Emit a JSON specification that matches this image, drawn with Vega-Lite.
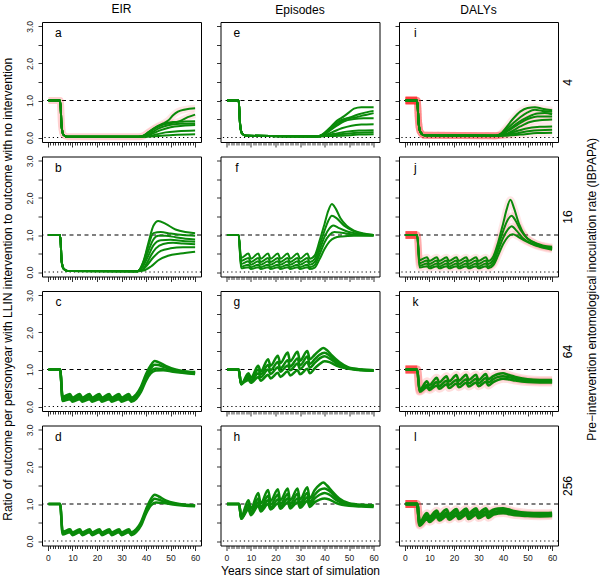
{
"$schema":"https://vega.github.io/schema/vega-lite/v6.json",
"padding":{"left":1,"top":2,"right":2,"bottom":2},
"background":"white",
"config":{"font":"Liberation Sans","view":{"stroke":"black","strokeWidth":1},
"axis":{"grid":false,"domain":false,"tickColor":"black","tickWidth":0.8,"labelColor":"#222","labelFont":"Liberation Sans","labelFontSize":8.5,"titleFont":"Liberation Sans","titleFontWeight":"normal","titleFontSize":12,"titleColor":"black","labelOverlap":false},
"title":{"font":"Liberation Sans","fontSize":12,"fontWeight":"normal","color":"black","offset":5}},
"data":{"values":[
{"p":"a","l":1,"x":0.25,"y":1},{"p":"a","l":1,"x":5,"y":1},{"p":"a","l":1,"x":5.6,"y":0.3},{"p":"a","l":1,"x":6.3,"y":0.08},{"p":"a","l":1,"x":8,"y":0.02},{"p":"a","l":1,"x":37,"y":0.02},{"p":"a","l":1,"x":39,"y":0.05},{"p":"a","l":1,"x":41,"y":0.15},{"p":"a","l":1,"x":44,"y":0.28},{"p":"a","l":1,"x":47,"y":0.38},{"p":"a","l":1,"x":49,"y":0.46},{"p":"a","l":1,"x":51,"y":0.6},{"p":"a","l":1,"x":53,"y":0.7},{"p":"a","l":1,"x":56,"y":0.76},{"p":"a","l":1,"x":60,"y":0.79},
{"p":"a","l":2,"x":0.25,"y":1},{"p":"a","l":2,"x":5,"y":1},{"p":"a","l":2,"x":5.6,"y":0.3},{"p":"a","l":2,"x":6.3,"y":0.08},{"p":"a","l":2,"x":8,"y":0.02},{"p":"a","l":2,"x":37,"y":0.02},{"p":"a","l":2,"x":39,"y":0.05},{"p":"a","l":2,"x":41,"y":0.14},{"p":"a","l":2,"x":44,"y":0.26},{"p":"a","l":2,"x":47,"y":0.35},{"p":"a","l":2,"x":51,"y":0.4},{"p":"a","l":2,"x":54,"y":0.45},{"p":"a","l":2,"x":57,"y":0.55},{"p":"a","l":2,"x":60,"y":0.62},
{"p":"a","l":3,"x":0.25,"y":1},{"p":"a","l":3,"x":5,"y":1},{"p":"a","l":3,"x":5.6,"y":0.3},{"p":"a","l":3,"x":6.3,"y":0.08},{"p":"a","l":3,"x":8,"y":0.02},{"p":"a","l":3,"x":37,"y":0.02},{"p":"a","l":3,"x":39,"y":0.05},{"p":"a","l":3,"x":41,"y":0.13},{"p":"a","l":3,"x":44,"y":0.27},{"p":"a","l":3,"x":47,"y":0.37},{"p":"a","l":3,"x":51,"y":0.42},{"p":"a","l":3,"x":55,"y":0.43},{"p":"a","l":3,"x":60,"y":0.44},
{"p":"a","l":4,"x":0.25,"y":1},{"p":"a","l":4,"x":5,"y":1},{"p":"a","l":4,"x":5.6,"y":0.3},{"p":"a","l":4,"x":6.3,"y":0.08},{"p":"a","l":4,"x":8,"y":0.02},{"p":"a","l":4,"x":37,"y":0.02},{"p":"a","l":4,"x":39,"y":0.04},{"p":"a","l":4,"x":42,"y":0.12},{"p":"a","l":4,"x":45,"y":0.24},{"p":"a","l":4,"x":49,"y":0.33},{"p":"a","l":4,"x":54,"y":0.37},{"p":"a","l":4,"x":60,"y":0.38},
{"p":"a","l":5,"x":0.25,"y":1},{"p":"a","l":5,"x":5,"y":1},{"p":"a","l":5,"x":5.6,"y":0.3},{"p":"a","l":5,"x":6.3,"y":0.08},{"p":"a","l":5,"x":8,"y":0.02},{"p":"a","l":5,"x":37,"y":0.02},{"p":"a","l":5,"x":39,"y":0.03},{"p":"a","l":5,"x":42,"y":0.09},{"p":"a","l":5,"x":46,"y":0.2},{"p":"a","l":5,"x":50,"y":0.28},{"p":"a","l":5,"x":55,"y":0.32},{"p":"a","l":5,"x":60,"y":0.34},
{"p":"a","l":6,"x":0.25,"y":1},{"p":"a","l":6,"x":5,"y":1},{"p":"a","l":6,"x":5.6,"y":0.3},{"p":"a","l":6,"x":6.3,"y":0.08},{"p":"a","l":6,"x":8,"y":0.02},{"p":"a","l":6,"x":37,"y":0.02},{"p":"a","l":6,"x":40,"y":0.03},{"p":"a","l":6,"x":44,"y":0.08},{"p":"a","l":6,"x":48,"y":0.14},{"p":"a","l":6,"x":53,"y":0.17},{"p":"a","l":6,"x":60,"y":0.19},
{"p":"a","l":7,"x":0.25,"y":1},{"p":"a","l":7,"x":5,"y":1},{"p":"a","l":7,"x":5.6,"y":0.3},{"p":"a","l":7,"x":6.3,"y":0.08},{"p":"a","l":7,"x":8,"y":0.02},{"p":"a","l":7,"x":37,"y":0.02},{"p":"a","l":7,"x":40,"y":0.02},{"p":"a","l":7,"x":45,"y":0.04},{"p":"a","l":7,"x":51,"y":0.07},{"p":"a","l":7,"x":60,"y":0.09},
{"p":"e","l":1,"x":0.25,"y":1},{"p":"e","l":1,"x":5,"y":1},{"p":"e","l":1,"x":5.6,"y":0.35},{"p":"e","l":1,"x":6.3,"y":0.12},{"p":"e","l":1,"x":8,"y":0.05},{"p":"e","l":1,"x":37,"y":0.03},{"p":"e","l":1,"x":39,"y":0.08},{"p":"e","l":1,"x":42,"y":0.25},{"p":"e","l":1,"x":45,"y":0.45},{"p":"e","l":1,"x":48,"y":0.58},{"p":"e","l":1,"x":50,"y":0.68},{"p":"e","l":1,"x":52,"y":0.78},{"p":"e","l":1,"x":55,"y":0.82},{"p":"e","l":1,"x":60,"y":0.82},
{"p":"e","l":2,"x":0.25,"y":1},{"p":"e","l":2,"x":5,"y":1},{"p":"e","l":2,"x":5.6,"y":0.35},{"p":"e","l":2,"x":6.3,"y":0.12},{"p":"e","l":2,"x":8,"y":0.05},{"p":"e","l":2,"x":37,"y":0.03},{"p":"e","l":2,"x":39,"y":0.07},{"p":"e","l":2,"x":42,"y":0.2},{"p":"e","l":2,"x":45,"y":0.35},{"p":"e","l":2,"x":48,"y":0.48},{"p":"e","l":2,"x":51,"y":0.56},{"p":"e","l":2,"x":54,"y":0.63},{"p":"e","l":2,"x":57,"y":0.68},{"p":"e","l":2,"x":60,"y":0.72},
{"p":"e","l":3,"x":0.25,"y":1},{"p":"e","l":3,"x":5,"y":1},{"p":"e","l":3,"x":5.6,"y":0.35},{"p":"e","l":3,"x":6.3,"y":0.12},{"p":"e","l":3,"x":8,"y":0.05},{"p":"e","l":3,"x":37,"y":0.03},{"p":"e","l":3,"x":39,"y":0.07},{"p":"e","l":3,"x":42,"y":0.22},{"p":"e","l":3,"x":45,"y":0.4},{"p":"e","l":3,"x":48,"y":0.5},{"p":"e","l":3,"x":52,"y":0.54},{"p":"e","l":3,"x":56,"y":0.6},{"p":"e","l":3,"x":60,"y":0.66},
{"p":"e","l":4,"x":0.25,"y":1},{"p":"e","l":4,"x":5,"y":1},{"p":"e","l":4,"x":5.6,"y":0.35},{"p":"e","l":4,"x":6.3,"y":0.12},{"p":"e","l":4,"x":8,"y":0.05},{"p":"e","l":4,"x":37,"y":0.03},{"p":"e","l":4,"x":39,"y":0.06},{"p":"e","l":4,"x":42,"y":0.18},{"p":"e","l":4,"x":45,"y":0.32},{"p":"e","l":4,"x":48,"y":0.44},{"p":"e","l":4,"x":52,"y":0.5},{"p":"e","l":4,"x":56,"y":0.52},{"p":"e","l":4,"x":60,"y":0.52},
{"p":"e","l":5,"x":0.25,"y":1},{"p":"e","l":5,"x":5,"y":1},{"p":"e","l":5,"x":5.6,"y":0.35},{"p":"e","l":5,"x":6.3,"y":0.12},{"p":"e","l":5,"x":8,"y":0.05},{"p":"e","l":5,"x":37,"y":0.03},{"p":"e","l":5,"x":39,"y":0.05},{"p":"e","l":5,"x":43,"y":0.14},{"p":"e","l":5,"x":47,"y":0.25},{"p":"e","l":5,"x":51,"y":0.32},{"p":"e","l":5,"x":55,"y":0.35},{"p":"e","l":5,"x":60,"y":0.36},
{"p":"e","l":6,"x":0.25,"y":1},{"p":"e","l":6,"x":5,"y":1},{"p":"e","l":6,"x":5.6,"y":0.35},{"p":"e","l":6,"x":6.3,"y":0.12},{"p":"e","l":6,"x":8,"y":0.05},{"p":"e","l":6,"x":37,"y":0.03},{"p":"e","l":6,"x":40,"y":0.05},{"p":"e","l":6,"x":44,"y":0.1},{"p":"e","l":6,"x":49,"y":0.16},{"p":"e","l":6,"x":54,"y":0.19},{"p":"e","l":6,"x":60,"y":0.2},
{"p":"e","l":7,"x":0.25,"y":1},{"p":"e","l":7,"x":5,"y":1},{"p":"e","l":7,"x":5.6,"y":0.35},{"p":"e","l":7,"x":6.3,"y":0.12},{"p":"e","l":7,"x":8,"y":0.05},{"p":"e","l":7,"x":37,"y":0.03},{"p":"e","l":7,"x":40,"y":0.04},{"p":"e","l":7,"x":45,"y":0.08},{"p":"e","l":7,"x":52,"y":0.12},{"p":"e","l":7,"x":60,"y":0.14},
{"p":"e","l":8,"x":0.25,"y":1},{"p":"e","l":8,"x":5,"y":1},{"p":"e","l":8,"x":5.6,"y":0.35},{"p":"e","l":8,"x":6.3,"y":0.12},{"p":"e","l":8,"x":8,"y":0.05},{"p":"e","l":8,"x":37,"y":0.03},{"p":"e","l":8,"x":40,"y":0.04},{"p":"e","l":8,"x":47,"y":0.05},{"p":"e","l":8,"x":54,"y":0.08},{"p":"e","l":8,"x":60,"y":0.09},
{"p":"i","l":1,"x":0.25,"y":1},{"p":"i","l":1,"x":5,"y":1},{"p":"i","l":1,"x":5.6,"y":0.4},{"p":"i","l":1,"x":6.3,"y":0.15},{"p":"i","l":1,"x":8,"y":0.06},{"p":"i","l":1,"x":37,"y":0.05},{"p":"i","l":1,"x":39,"y":0.1},{"p":"i","l":1,"x":41,"y":0.25},{"p":"i","l":1,"x":44,"y":0.5},{"p":"i","l":1,"x":47,"y":0.7},{"p":"i","l":1,"x":50,"y":0.8},{"p":"i","l":1,"x":53,"y":0.82},{"p":"i","l":1,"x":56,"y":0.78},{"p":"i","l":1,"x":60,"y":0.74},
{"p":"i","l":2,"x":0.25,"y":1},{"p":"i","l":2,"x":5,"y":1},{"p":"i","l":2,"x":5.6,"y":0.4},{"p":"i","l":2,"x":6.3,"y":0.15},{"p":"i","l":2,"x":8,"y":0.06},{"p":"i","l":2,"x":37,"y":0.05},{"p":"i","l":2,"x":39,"y":0.09},{"p":"i","l":2,"x":41,"y":0.2},{"p":"i","l":2,"x":44,"y":0.38},{"p":"i","l":2,"x":47,"y":0.55},{"p":"i","l":2,"x":50,"y":0.68},{"p":"i","l":2,"x":53,"y":0.75},{"p":"i","l":2,"x":56,"y":0.72},{"p":"i","l":2,"x":60,"y":0.7},
{"p":"i","l":3,"x":0.25,"y":1},{"p":"i","l":3,"x":5,"y":1},{"p":"i","l":3,"x":5.6,"y":0.4},{"p":"i","l":3,"x":6.3,"y":0.15},{"p":"i","l":3,"x":8,"y":0.06},{"p":"i","l":3,"x":37,"y":0.05},{"p":"i","l":3,"x":39,"y":0.08},{"p":"i","l":3,"x":42,"y":0.2},{"p":"i","l":3,"x":46,"y":0.4},{"p":"i","l":3,"x":50,"y":0.55},{"p":"i","l":3,"x":54,"y":0.65},{"p":"i","l":3,"x":57,"y":0.66},{"p":"i","l":3,"x":60,"y":0.63},
{"p":"i","l":4,"x":0.25,"y":1},{"p":"i","l":4,"x":5,"y":1},{"p":"i","l":4,"x":5.6,"y":0.4},{"p":"i","l":4,"x":6.3,"y":0.15},{"p":"i","l":4,"x":8,"y":0.06},{"p":"i","l":4,"x":37,"y":0.05},{"p":"i","l":4,"x":39,"y":0.07},{"p":"i","l":4,"x":42,"y":0.18},{"p":"i","l":4,"x":46,"y":0.35},{"p":"i","l":4,"x":50,"y":0.5},{"p":"i","l":4,"x":54,"y":0.57},{"p":"i","l":4,"x":60,"y":0.57},
{"p":"i","l":5,"x":0.25,"y":1},{"p":"i","l":5,"x":5,"y":1},{"p":"i","l":5,"x":5.6,"y":0.4},{"p":"i","l":5,"x":6.3,"y":0.15},{"p":"i","l":5,"x":8,"y":0.06},{"p":"i","l":5,"x":37,"y":0.05},{"p":"i","l":5,"x":40,"y":0.07},{"p":"i","l":5,"x":43,"y":0.15},{"p":"i","l":5,"x":47,"y":0.3},{"p":"i","l":5,"x":51,"y":0.42},{"p":"i","l":5,"x":55,"y":0.47},{"p":"i","l":5,"x":60,"y":0.49},
{"p":"i","l":6,"x":0.25,"y":1},{"p":"i","l":6,"x":5,"y":1},{"p":"i","l":6,"x":5.6,"y":0.4},{"p":"i","l":6,"x":6.3,"y":0.15},{"p":"i","l":6,"x":8,"y":0.06},{"p":"i","l":6,"x":37,"y":0.05},{"p":"i","l":6,"x":40,"y":0.06},{"p":"i","l":6,"x":44,"y":0.14},{"p":"i","l":6,"x":49,"y":0.24},{"p":"i","l":6,"x":55,"y":0.29},{"p":"i","l":6,"x":60,"y":0.3},
{"p":"i","l":7,"x":0.25,"y":1},{"p":"i","l":7,"x":5,"y":1},{"p":"i","l":7,"x":5.6,"y":0.4},{"p":"i","l":7,"x":6.3,"y":0.15},{"p":"i","l":7,"x":8,"y":0.06},{"p":"i","l":7,"x":37,"y":0.05},{"p":"i","l":7,"x":40,"y":0.06},{"p":"i","l":7,"x":45,"y":0.11},{"p":"i","l":7,"x":51,"y":0.18},{"p":"i","l":7,"x":60,"y":0.21},
{"p":"i","l":8,"x":0.25,"y":1},{"p":"i","l":8,"x":5,"y":1},{"p":"i","l":8,"x":5.6,"y":0.4},{"p":"i","l":8,"x":6.3,"y":0.15},{"p":"i","l":8,"x":8,"y":0.06},{"p":"i","l":8,"x":37,"y":0.05},{"p":"i","l":8,"x":40,"y":0.05},{"p":"i","l":8,"x":47,"y":0.08},{"p":"i","l":8,"x":54,"y":0.12},{"p":"i","l":8,"x":60,"y":0.13},
{"p":"b","l":1,"x":0.25,"y":1},{"p":"b","l":1,"x":5,"y":1},{"p":"b","l":1,"x":5.6,"y":0.3},{"p":"b","l":1,"x":6.3,"y":0.1},{"p":"b","l":1,"x":8,"y":0.03},{"p":"b","l":1,"x":36,"y":0.02},{"p":"b","l":1,"x":37,"y":0.04},{"p":"b","l":1,"x":39,"y":0.3},{"p":"b","l":1,"x":41,"y":0.8},{"p":"b","l":1,"x":43,"y":1.25},{"p":"b","l":1,"x":45,"y":1.38},{"p":"b","l":1,"x":48,"y":1.3},{"p":"b","l":1,"x":52,"y":1.15},{"p":"b","l":1,"x":56,"y":1.08},{"p":"b","l":1,"x":60,"y":1.05},
{"p":"b","l":2,"x":0.25,"y":1},{"p":"b","l":2,"x":5,"y":1},{"p":"b","l":2,"x":5.6,"y":0.3},{"p":"b","l":2,"x":6.3,"y":0.1},{"p":"b","l":2,"x":8,"y":0.03},{"p":"b","l":2,"x":36,"y":0.02},{"p":"b","l":2,"x":37,"y":0.04},{"p":"b","l":2,"x":39,"y":0.28},{"p":"b","l":2,"x":41,"y":0.72},{"p":"b","l":2,"x":43,"y":1.05},{"p":"b","l":2,"x":46,"y":1.08},{"p":"b","l":2,"x":50,"y":1.04},{"p":"b","l":2,"x":55,"y":1.0},{"p":"b","l":2,"x":60,"y":0.98},
{"p":"b","l":3,"x":0.25,"y":1},{"p":"b","l":3,"x":5,"y":1},{"p":"b","l":3,"x":5.6,"y":0.3},{"p":"b","l":3,"x":6.3,"y":0.1},{"p":"b","l":3,"x":8,"y":0.03},{"p":"b","l":3,"x":36,"y":0.02},{"p":"b","l":3,"x":37,"y":0.04},{"p":"b","l":3,"x":39,"y":0.22},{"p":"b","l":3,"x":41,"y":0.58},{"p":"b","l":3,"x":43,"y":0.88},{"p":"b","l":3,"x":45,"y":0.98},{"p":"b","l":3,"x":48,"y":0.98},{"p":"b","l":3,"x":52,"y":0.94},{"p":"b","l":3,"x":56,"y":0.9},{"p":"b","l":3,"x":60,"y":0.88},
{"p":"b","l":4,"x":0.25,"y":1},{"p":"b","l":4,"x":5,"y":1},{"p":"b","l":4,"x":5.6,"y":0.3},{"p":"b","l":4,"x":6.3,"y":0.1},{"p":"b","l":4,"x":8,"y":0.03},{"p":"b","l":4,"x":36,"y":0.02},{"p":"b","l":4,"x":37,"y":0.03},{"p":"b","l":4,"x":39,"y":0.18},{"p":"b","l":4,"x":41,"y":0.45},{"p":"b","l":4,"x":43,"y":0.72},{"p":"b","l":4,"x":46,"y":0.86},{"p":"b","l":4,"x":50,"y":0.87},{"p":"b","l":4,"x":55,"y":0.84},{"p":"b","l":4,"x":60,"y":0.82},
{"p":"b","l":5,"x":0.25,"y":1},{"p":"b","l":5,"x":5,"y":1},{"p":"b","l":5,"x":5.6,"y":0.3},{"p":"b","l":5,"x":6.3,"y":0.1},{"p":"b","l":5,"x":8,"y":0.03},{"p":"b","l":5,"x":36,"y":0.02},{"p":"b","l":5,"x":38,"y":0.04},{"p":"b","l":5,"x":40,"y":0.2},{"p":"b","l":5,"x":42,"y":0.45},{"p":"b","l":5,"x":44,"y":0.64},{"p":"b","l":5,"x":47,"y":0.76},{"p":"b","l":5,"x":51,"y":0.79},{"p":"b","l":5,"x":55,"y":0.77},{"p":"b","l":5,"x":60,"y":0.75},
{"p":"b","l":6,"x":0.25,"y":1},{"p":"b","l":6,"x":5,"y":1},{"p":"b","l":6,"x":5.6,"y":0.3},{"p":"b","l":6,"x":6.3,"y":0.1},{"p":"b","l":6,"x":8,"y":0.03},{"p":"b","l":6,"x":36,"y":0.02},{"p":"b","l":6,"x":38,"y":0.03},{"p":"b","l":6,"x":40,"y":0.15},{"p":"b","l":6,"x":43,"y":0.4},{"p":"b","l":6,"x":46,"y":0.57},{"p":"b","l":6,"x":50,"y":0.64},{"p":"b","l":6,"x":55,"y":0.67},{"p":"b","l":6,"x":60,"y":0.67},
{"p":"b","l":7,"x":0.25,"y":1},{"p":"b","l":7,"x":5,"y":1},{"p":"b","l":7,"x":5.6,"y":0.3},{"p":"b","l":7,"x":6.3,"y":0.1},{"p":"b","l":7,"x":8,"y":0.03},{"p":"b","l":7,"x":36,"y":0.02},{"p":"b","l":7,"x":39,"y":0.04},{"p":"b","l":7,"x":42,"y":0.15},{"p":"b","l":7,"x":45,"y":0.32},{"p":"b","l":7,"x":49,"y":0.44},{"p":"b","l":7,"x":54,"y":0.5},{"p":"b","l":7,"x":60,"y":0.55},
{"p":"f","l":1,"x":0.25,"y":1},{"p":"f","l":1,"x":5,"y":1},{"p":"f","l":1,"x":6,"y":0.38},{"p":"f","l":1,"x":9,"y":0.5},{"p":"f","l":1,"x":10,"y":0.36},{"p":"f","l":1,"x":13,"y":0.5},{"p":"f","l":1,"x":14,"y":0.36},{"p":"f","l":1,"x":17,"y":0.5},{"p":"f","l":1,"x":18,"y":0.36},{"p":"f","l":1,"x":21,"y":0.5},{"p":"f","l":1,"x":22,"y":0.36},{"p":"f","l":1,"x":25,"y":0.5},{"p":"f","l":1,"x":26,"y":0.36},{"p":"f","l":1,"x":29,"y":0.5},{"p":"f","l":1,"x":30,"y":0.36},{"p":"f","l":1,"x":33,"y":0.5},{"p":"f","l":1,"x":34,"y":0.36},{"p":"f","l":1,"x":36,"y":0.45},{"p":"f","l":1,"x":38,"y":0.85},{"p":"f","l":1,"x":40,"y":1.3},{"p":"f","l":1,"x":41.5,"y":1.65},{"p":"f","l":1,"x":43,"y":1.84},{"p":"f","l":1,"x":44.5,"y":1.72},{"p":"f","l":1,"x":46.5,"y":1.45},{"p":"f","l":1,"x":49,"y":1.25},{"p":"f","l":1,"x":52,"y":1.12},{"p":"f","l":1,"x":56,"y":1.04},{"p":"f","l":1,"x":60,"y":1.0},
{"p":"f","l":2,"x":0.25,"y":1},{"p":"f","l":2,"x":5,"y":1},{"p":"f","l":2,"x":6,"y":0.3},{"p":"f","l":2,"x":9,"y":0.38},{"p":"f","l":2,"x":10,"y":0.27},{"p":"f","l":2,"x":13,"y":0.38},{"p":"f","l":2,"x":14,"y":0.27},{"p":"f","l":2,"x":17,"y":0.38},{"p":"f","l":2,"x":18,"y":0.27},{"p":"f","l":2,"x":21,"y":0.38},{"p":"f","l":2,"x":22,"y":0.27},{"p":"f","l":2,"x":25,"y":0.38},{"p":"f","l":2,"x":26,"y":0.27},{"p":"f","l":2,"x":29,"y":0.38},{"p":"f","l":2,"x":30,"y":0.27},{"p":"f","l":2,"x":33,"y":0.38},{"p":"f","l":2,"x":34,"y":0.27},{"p":"f","l":2,"x":36,"y":0.36},{"p":"f","l":2,"x":38,"y":0.72},{"p":"f","l":2,"x":40,"y":1.12},{"p":"f","l":2,"x":41.5,"y":1.38},{"p":"f","l":2,"x":43,"y":1.52},{"p":"f","l":2,"x":45,"y":1.45},{"p":"f","l":2,"x":48,"y":1.25},{"p":"f","l":2,"x":52,"y":1.1},{"p":"f","l":2,"x":56,"y":1.03},{"p":"f","l":2,"x":60,"y":1.0},
{"p":"f","l":3,"x":0.25,"y":1},{"p":"f","l":3,"x":5,"y":1},{"p":"f","l":3,"x":6,"y":0.22},{"p":"f","l":3,"x":9,"y":0.29},{"p":"f","l":3,"x":10,"y":0.2},{"p":"f","l":3,"x":13,"y":0.29},{"p":"f","l":3,"x":14,"y":0.2},{"p":"f","l":3,"x":17,"y":0.29},{"p":"f","l":3,"x":18,"y":0.2},{"p":"f","l":3,"x":21,"y":0.29},{"p":"f","l":3,"x":22,"y":0.2},{"p":"f","l":3,"x":25,"y":0.29},{"p":"f","l":3,"x":26,"y":0.2},{"p":"f","l":3,"x":29,"y":0.29},{"p":"f","l":3,"x":30,"y":0.2},{"p":"f","l":3,"x":33,"y":0.29},{"p":"f","l":3,"x":34,"y":0.2},{"p":"f","l":3,"x":36,"y":0.27},{"p":"f","l":3,"x":38,"y":0.6},{"p":"f","l":3,"x":40,"y":0.95},{"p":"f","l":3,"x":42,"y":1.18},{"p":"f","l":3,"x":43.5,"y":1.26},{"p":"f","l":3,"x":45.5,"y":1.2},{"p":"f","l":3,"x":49,"y":1.1},{"p":"f","l":3,"x":54,"y":1.03},{"p":"f","l":3,"x":60,"y":1.0},
{"p":"f","l":4,"x":0.25,"y":1},{"p":"f","l":4,"x":5,"y":1},{"p":"f","l":4,"x":6,"y":0.15},{"p":"f","l":4,"x":9,"y":0.2},{"p":"f","l":4,"x":10,"y":0.13},{"p":"f","l":4,"x":13,"y":0.2},{"p":"f","l":4,"x":14,"y":0.13},{"p":"f","l":4,"x":17,"y":0.2},{"p":"f","l":4,"x":18,"y":0.13},{"p":"f","l":4,"x":21,"y":0.2},{"p":"f","l":4,"x":22,"y":0.13},{"p":"f","l":4,"x":25,"y":0.2},{"p":"f","l":4,"x":26,"y":0.13},{"p":"f","l":4,"x":29,"y":0.2},{"p":"f","l":4,"x":30,"y":0.13},{"p":"f","l":4,"x":33,"y":0.2},{"p":"f","l":4,"x":34,"y":0.13},{"p":"f","l":4,"x":36,"y":0.19},{"p":"f","l":4,"x":38,"y":0.48},{"p":"f","l":4,"x":40,"y":0.8},{"p":"f","l":4,"x":42,"y":1.0},{"p":"f","l":4,"x":44,"y":1.08},{"p":"f","l":4,"x":47,"y":1.06},{"p":"f","l":4,"x":51,"y":1.02},{"p":"f","l":4,"x":60,"y":0.99},
{"p":"f","l":5,"x":0.25,"y":1},{"p":"f","l":5,"x":5,"y":1},{"p":"f","l":5,"x":6,"y":0.1},{"p":"f","l":5,"x":9,"y":0.13},{"p":"f","l":5,"x":10,"y":0.08},{"p":"f","l":5,"x":13,"y":0.13},{"p":"f","l":5,"x":14,"y":0.08},{"p":"f","l":5,"x":17,"y":0.13},{"p":"f","l":5,"x":18,"y":0.08},{"p":"f","l":5,"x":21,"y":0.13},{"p":"f","l":5,"x":22,"y":0.08},{"p":"f","l":5,"x":25,"y":0.13},{"p":"f","l":5,"x":26,"y":0.08},{"p":"f","l":5,"x":29,"y":0.13},{"p":"f","l":5,"x":30,"y":0.08},{"p":"f","l":5,"x":33,"y":0.13},{"p":"f","l":5,"x":34,"y":0.08},{"p":"f","l":5,"x":36,"y":0.12},{"p":"f","l":5,"x":38,"y":0.35},{"p":"f","l":5,"x":40,"y":0.62},{"p":"f","l":5,"x":42,"y":0.82},{"p":"f","l":5,"x":44,"y":0.92},{"p":"f","l":5,"x":47,"y":0.96},{"p":"f","l":5,"x":52,"y":0.98},{"p":"f","l":5,"x":60,"y":0.98},
{"p":"j","l":1,"x":0.25,"y":1},{"p":"j","l":1,"x":5,"y":1},{"p":"j","l":1,"x":6,"y":0.32},{"p":"j","l":1,"x":9,"y":0.4},{"p":"j","l":1,"x":10,"y":0.3},{"p":"j","l":1,"x":13,"y":0.4},{"p":"j","l":1,"x":14,"y":0.3},{"p":"j","l":1,"x":17,"y":0.4},{"p":"j","l":1,"x":18,"y":0.3},{"p":"j","l":1,"x":21,"y":0.4},{"p":"j","l":1,"x":22,"y":0.3},{"p":"j","l":1,"x":25,"y":0.4},{"p":"j","l":1,"x":26,"y":0.3},{"p":"j","l":1,"x":29,"y":0.4},{"p":"j","l":1,"x":30,"y":0.3},{"p":"j","l":1,"x":33,"y":0.4},{"p":"j","l":1,"x":34,"y":0.3},{"p":"j","l":1,"x":36,"y":0.42},{"p":"j","l":1,"x":38,"y":0.8},{"p":"j","l":1,"x":40,"y":1.3},{"p":"j","l":1,"x":41.5,"y":1.7},{"p":"j","l":1,"x":43,"y":1.95},{"p":"j","l":1,"x":44.5,"y":1.72},{"p":"j","l":1,"x":46.5,"y":1.3},{"p":"j","l":1,"x":49,"y":0.98},{"p":"j","l":1,"x":52,"y":0.82},{"p":"j","l":1,"x":56,"y":0.72},{"p":"j","l":1,"x":60,"y":0.68},
{"p":"j","l":2,"x":0.25,"y":1},{"p":"j","l":2,"x":5,"y":1},{"p":"j","l":2,"x":6,"y":0.24},{"p":"j","l":2,"x":9,"y":0.31},{"p":"j","l":2,"x":10,"y":0.22},{"p":"j","l":2,"x":13,"y":0.31},{"p":"j","l":2,"x":14,"y":0.22},{"p":"j","l":2,"x":17,"y":0.31},{"p":"j","l":2,"x":18,"y":0.22},{"p":"j","l":2,"x":21,"y":0.31},{"p":"j","l":2,"x":22,"y":0.22},{"p":"j","l":2,"x":25,"y":0.31},{"p":"j","l":2,"x":26,"y":0.22},{"p":"j","l":2,"x":29,"y":0.31},{"p":"j","l":2,"x":30,"y":0.22},{"p":"j","l":2,"x":33,"y":0.31},{"p":"j","l":2,"x":34,"y":0.22},{"p":"j","l":2,"x":36,"y":0.33},{"p":"j","l":2,"x":38,"y":0.7},{"p":"j","l":2,"x":40,"y":1.1},{"p":"j","l":2,"x":42,"y":1.42},{"p":"j","l":2,"x":43.5,"y":1.52},{"p":"j","l":2,"x":45,"y":1.4},{"p":"j","l":2,"x":47,"y":1.15},{"p":"j","l":2,"x":50,"y":0.9},{"p":"j","l":2,"x":54,"y":0.75},{"p":"j","l":2,"x":60,"y":0.65},
{"p":"j","l":3,"x":0.25,"y":1},{"p":"j","l":3,"x":5,"y":1},{"p":"j","l":3,"x":6,"y":0.17},{"p":"j","l":3,"x":9,"y":0.23},{"p":"j","l":3,"x":10,"y":0.15},{"p":"j","l":3,"x":13,"y":0.23},{"p":"j","l":3,"x":14,"y":0.15},{"p":"j","l":3,"x":17,"y":0.23},{"p":"j","l":3,"x":18,"y":0.15},{"p":"j","l":3,"x":21,"y":0.23},{"p":"j","l":3,"x":22,"y":0.15},{"p":"j","l":3,"x":25,"y":0.23},{"p":"j","l":3,"x":26,"y":0.15},{"p":"j","l":3,"x":29,"y":0.23},{"p":"j","l":3,"x":30,"y":0.15},{"p":"j","l":3,"x":33,"y":0.23},{"p":"j","l":3,"x":34,"y":0.15},{"p":"j","l":3,"x":36,"y":0.25},{"p":"j","l":3,"x":38,"y":0.58},{"p":"j","l":3,"x":40,"y":0.92},{"p":"j","l":3,"x":42,"y":1.15},{"p":"j","l":3,"x":43.5,"y":1.24},{"p":"j","l":3,"x":45.5,"y":1.12},{"p":"j","l":3,"x":48,"y":0.92},{"p":"j","l":3,"x":52,"y":0.76},{"p":"j","l":3,"x":60,"y":0.63},
{"p":"j","l":4,"x":0.25,"y":1},{"p":"j","l":4,"x":5,"y":1},{"p":"j","l":4,"x":6,"y":0.12},{"p":"j","l":4,"x":9,"y":0.16},{"p":"j","l":4,"x":10,"y":0.1},{"p":"j","l":4,"x":13,"y":0.16},{"p":"j","l":4,"x":14,"y":0.1},{"p":"j","l":4,"x":17,"y":0.16},{"p":"j","l":4,"x":18,"y":0.1},{"p":"j","l":4,"x":21,"y":0.16},{"p":"j","l":4,"x":22,"y":0.1},{"p":"j","l":4,"x":25,"y":0.16},{"p":"j","l":4,"x":26,"y":0.1},{"p":"j","l":4,"x":29,"y":0.16},{"p":"j","l":4,"x":30,"y":0.1},{"p":"j","l":4,"x":33,"y":0.16},{"p":"j","l":4,"x":34,"y":0.1},{"p":"j","l":4,"x":36,"y":0.18},{"p":"j","l":4,"x":38,"y":0.45},{"p":"j","l":4,"x":40,"y":0.75},{"p":"j","l":4,"x":42,"y":0.95},{"p":"j","l":4,"x":44,"y":1.02},{"p":"j","l":4,"x":46,"y":0.96},{"p":"j","l":4,"x":49,"y":0.84},{"p":"j","l":4,"x":53,"y":0.72},{"p":"j","l":4,"x":60,"y":0.6},
{"p":"c","l":1,"x":0.25,"y":1},{"p":"c","l":1,"x":5,"y":1},{"p":"c","l":1,"x":6,"y":0.26},{"p":"c","l":1,"x":9,"y":0.34},{"p":"c","l":1,"x":10,"y":0.24},{"p":"c","l":1,"x":13,"y":0.34},{"p":"c","l":1,"x":14,"y":0.24},{"p":"c","l":1,"x":17,"y":0.34},{"p":"c","l":1,"x":18,"y":0.24},{"p":"c","l":1,"x":21,"y":0.34},{"p":"c","l":1,"x":22,"y":0.24},{"p":"c","l":1,"x":25,"y":0.34},{"p":"c","l":1,"x":26,"y":0.24},{"p":"c","l":1,"x":29,"y":0.34},{"p":"c","l":1,"x":30,"y":0.24},{"p":"c","l":1,"x":33,"y":0.34},{"p":"c","l":1,"x":34,"y":0.24},{"p":"c","l":1,"x":36,"y":0.33},{"p":"c","l":1,"x":38,"y":0.55},{"p":"c","l":1,"x":40,"y":0.88},{"p":"c","l":1,"x":42,"y":1.12},{"p":"c","l":1,"x":43.5,"y":1.23},{"p":"c","l":1,"x":45,"y":1.2},{"p":"c","l":1,"x":48,"y":1.1},{"p":"c","l":1,"x":52,"y":1.0},{"p":"c","l":1,"x":56,"y":0.95},{"p":"c","l":1,"x":60,"y":0.93},
{"p":"c","l":2,"x":0.25,"y":1},{"p":"c","l":2,"x":5,"y":1},{"p":"c","l":2,"x":6,"y":0.22},{"p":"c","l":2,"x":9,"y":0.29},{"p":"c","l":2,"x":10,"y":0.2},{"p":"c","l":2,"x":13,"y":0.29},{"p":"c","l":2,"x":14,"y":0.2},{"p":"c","l":2,"x":17,"y":0.29},{"p":"c","l":2,"x":18,"y":0.2},{"p":"c","l":2,"x":21,"y":0.29},{"p":"c","l":2,"x":22,"y":0.2},{"p":"c","l":2,"x":25,"y":0.29},{"p":"c","l":2,"x":26,"y":0.2},{"p":"c","l":2,"x":29,"y":0.29},{"p":"c","l":2,"x":30,"y":0.2},{"p":"c","l":2,"x":33,"y":0.29},{"p":"c","l":2,"x":34,"y":0.2},{"p":"c","l":2,"x":36,"y":0.29},{"p":"c","l":2,"x":38,"y":0.5},{"p":"c","l":2,"x":40,"y":0.82},{"p":"c","l":2,"x":42,"y":1.04},{"p":"c","l":2,"x":43.5,"y":1.13},{"p":"c","l":2,"x":45,"y":1.12},{"p":"c","l":2,"x":48,"y":1.05},{"p":"c","l":2,"x":52,"y":0.98},{"p":"c","l":2,"x":60,"y":0.92},
{"p":"c","l":3,"x":0.25,"y":1},{"p":"c","l":3,"x":5,"y":1},{"p":"c","l":3,"x":6,"y":0.18},{"p":"c","l":3,"x":9,"y":0.25},{"p":"c","l":3,"x":10,"y":0.17},{"p":"c","l":3,"x":13,"y":0.25},{"p":"c","l":3,"x":14,"y":0.17},{"p":"c","l":3,"x":17,"y":0.25},{"p":"c","l":3,"x":18,"y":0.17},{"p":"c","l":3,"x":21,"y":0.25},{"p":"c","l":3,"x":22,"y":0.17},{"p":"c","l":3,"x":25,"y":0.25},{"p":"c","l":3,"x":26,"y":0.17},{"p":"c","l":3,"x":29,"y":0.25},{"p":"c","l":3,"x":30,"y":0.17},{"p":"c","l":3,"x":33,"y":0.25},{"p":"c","l":3,"x":34,"y":0.17},{"p":"c","l":3,"x":36,"y":0.25},{"p":"c","l":3,"x":38,"y":0.45},{"p":"c","l":3,"x":40,"y":0.76},{"p":"c","l":3,"x":42,"y":0.96},{"p":"c","l":3,"x":44,"y":1.03},{"p":"c","l":3,"x":47,"y":1.01},{"p":"c","l":3,"x":51,"y":0.96},{"p":"c","l":3,"x":60,"y":0.9},
{"p":"c","l":4,"x":0.25,"y":1},{"p":"c","l":4,"x":5,"y":1},{"p":"c","l":4,"x":6,"y":0.15},{"p":"c","l":4,"x":9,"y":0.2},{"p":"c","l":4,"x":10,"y":0.13},{"p":"c","l":4,"x":13,"y":0.2},{"p":"c","l":4,"x":14,"y":0.13},{"p":"c","l":4,"x":17,"y":0.2},{"p":"c","l":4,"x":18,"y":0.13},{"p":"c","l":4,"x":21,"y":0.2},{"p":"c","l":4,"x":22,"y":0.13},{"p":"c","l":4,"x":25,"y":0.2},{"p":"c","l":4,"x":26,"y":0.13},{"p":"c","l":4,"x":29,"y":0.2},{"p":"c","l":4,"x":30,"y":0.13},{"p":"c","l":4,"x":33,"y":0.2},{"p":"c","l":4,"x":34,"y":0.13},{"p":"c","l":4,"x":36,"y":0.21},{"p":"c","l":4,"x":38,"y":0.4},{"p":"c","l":4,"x":40,"y":0.7},{"p":"c","l":4,"x":42,"y":0.9},{"p":"c","l":4,"x":44,"y":0.97},{"p":"c","l":4,"x":47,"y":0.98},{"p":"c","l":4,"x":51,"y":0.94},{"p":"c","l":4,"x":60,"y":0.88},
{"p":"d","l":1,"x":0.25,"y":1},{"p":"d","l":1,"x":5,"y":1},{"p":"d","l":1,"x":6,"y":0.25},{"p":"d","l":1,"x":9,"y":0.32},{"p":"d","l":1,"x":10,"y":0.23},{"p":"d","l":1,"x":13,"y":0.32},{"p":"d","l":1,"x":14,"y":0.23},{"p":"d","l":1,"x":17,"y":0.32},{"p":"d","l":1,"x":18,"y":0.23},{"p":"d","l":1,"x":21,"y":0.32},{"p":"d","l":1,"x":22,"y":0.23},{"p":"d","l":1,"x":25,"y":0.32},{"p":"d","l":1,"x":26,"y":0.23},{"p":"d","l":1,"x":29,"y":0.32},{"p":"d","l":1,"x":30,"y":0.23},{"p":"d","l":1,"x":33,"y":0.32},{"p":"d","l":1,"x":34,"y":0.23},{"p":"d","l":1,"x":36,"y":0.32},{"p":"d","l":1,"x":38,"y":0.52},{"p":"d","l":1,"x":40,"y":0.86},{"p":"d","l":1,"x":42,"y":1.14},{"p":"d","l":1,"x":43.5,"y":1.25},{"p":"d","l":1,"x":45,"y":1.21},{"p":"d","l":1,"x":48,"y":1.1},{"p":"d","l":1,"x":52,"y":1.02},{"p":"d","l":1,"x":56,"y":0.98},{"p":"d","l":1,"x":60,"y":0.96},
{"p":"d","l":2,"x":0.25,"y":1},{"p":"d","l":2,"x":5,"y":1},{"p":"d","l":2,"x":6,"y":0.22},{"p":"d","l":2,"x":9,"y":0.28},{"p":"d","l":2,"x":10,"y":0.2},{"p":"d","l":2,"x":13,"y":0.28},{"p":"d","l":2,"x":14,"y":0.2},{"p":"d","l":2,"x":17,"y":0.28},{"p":"d","l":2,"x":18,"y":0.2},{"p":"d","l":2,"x":21,"y":0.28},{"p":"d","l":2,"x":22,"y":0.2},{"p":"d","l":2,"x":25,"y":0.28},{"p":"d","l":2,"x":26,"y":0.2},{"p":"d","l":2,"x":29,"y":0.28},{"p":"d","l":2,"x":30,"y":0.2},{"p":"d","l":2,"x":33,"y":0.28},{"p":"d","l":2,"x":34,"y":0.2},{"p":"d","l":2,"x":36,"y":0.28},{"p":"d","l":2,"x":38,"y":0.47},{"p":"d","l":2,"x":40,"y":0.8},{"p":"d","l":2,"x":42,"y":1.05},{"p":"d","l":2,"x":43.5,"y":1.14},{"p":"d","l":2,"x":45,"y":1.12},{"p":"d","l":2,"x":48,"y":1.05},{"p":"d","l":2,"x":52,"y":1.0},{"p":"d","l":2,"x":60,"y":0.95},
{"p":"d","l":3,"x":0.25,"y":1},{"p":"d","l":3,"x":5,"y":1},{"p":"d","l":3,"x":6,"y":0.18},{"p":"d","l":3,"x":9,"y":0.24},{"p":"d","l":3,"x":10,"y":0.16},{"p":"d","l":3,"x":13,"y":0.24},{"p":"d","l":3,"x":14,"y":0.16},{"p":"d","l":3,"x":17,"y":0.24},{"p":"d","l":3,"x":18,"y":0.16},{"p":"d","l":3,"x":21,"y":0.24},{"p":"d","l":3,"x":22,"y":0.16},{"p":"d","l":3,"x":25,"y":0.24},{"p":"d","l":3,"x":26,"y":0.16},{"p":"d","l":3,"x":29,"y":0.24},{"p":"d","l":3,"x":30,"y":0.16},{"p":"d","l":3,"x":33,"y":0.24},{"p":"d","l":3,"x":34,"y":0.16},{"p":"d","l":3,"x":36,"y":0.24},{"p":"d","l":3,"x":38,"y":0.42},{"p":"d","l":3,"x":40,"y":0.74},{"p":"d","l":3,"x":42,"y":0.96},{"p":"d","l":3,"x":44,"y":1.04},{"p":"d","l":3,"x":47,"y":1.03},{"p":"d","l":3,"x":51,"y":0.99},{"p":"d","l":3,"x":60,"y":0.94},
{"p":"g","l":1,"x":0.25,"y":1},{"p":"g","l":1,"x":5,"y":1},{"p":"g","l":1,"x":6,"y":0.6},{"p":"g","l":1,"x":9,"y":0.9},{"p":"g","l":1,"x":10,"y":0.78},{"p":"g","l":1,"x":13,"y":1.1},{"p":"g","l":1,"x":14,"y":0.95},{"p":"g","l":1,"x":17,"y":1.28},{"p":"g","l":1,"x":18,"y":1.1},{"p":"g","l":1,"x":21,"y":1.37},{"p":"g","l":1,"x":22,"y":1.17},{"p":"g","l":1,"x":25,"y":1.46},{"p":"g","l":1,"x":26,"y":1.22},{"p":"g","l":1,"x":29,"y":1.48},{"p":"g","l":1,"x":30,"y":1.24},{"p":"g","l":1,"x":33,"y":1.5},{"p":"g","l":1,"x":34,"y":1.28},{"p":"g","l":1,"x":36,"y":1.4},{"p":"g","l":1,"x":38,"y":1.52},{"p":"g","l":1,"x":39.5,"y":1.58},{"p":"g","l":1,"x":41,"y":1.52},{"p":"g","l":1,"x":43,"y":1.38},{"p":"g","l":1,"x":46,"y":1.2},{"p":"g","l":1,"x":50,"y":1.05},{"p":"g","l":1,"x":55,"y":1.0},{"p":"g","l":1,"x":60,"y":0.98},
{"p":"g","l":2,"x":0.25,"y":1},{"p":"g","l":2,"x":5,"y":1},{"p":"g","l":2,"x":6,"y":0.6},{"p":"g","l":2,"x":9,"y":0.84},{"p":"g","l":2,"x":10,"y":0.72},{"p":"g","l":2,"x":13,"y":1.0},{"p":"g","l":2,"x":14,"y":0.87},{"p":"g","l":2,"x":17,"y":1.12},{"p":"g","l":2,"x":18,"y":0.98},{"p":"g","l":2,"x":21,"y":1.2},{"p":"g","l":2,"x":22,"y":1.03},{"p":"g","l":2,"x":25,"y":1.25},{"p":"g","l":2,"x":26,"y":1.08},{"p":"g","l":2,"x":29,"y":1.3},{"p":"g","l":2,"x":30,"y":1.11},{"p":"g","l":2,"x":33,"y":1.35},{"p":"g","l":2,"x":34,"y":1.15},{"p":"g","l":2,"x":36,"y":1.28},{"p":"g","l":2,"x":38,"y":1.4},{"p":"g","l":2,"x":40,"y":1.45},{"p":"g","l":2,"x":42,"y":1.38},{"p":"g","l":2,"x":45,"y":1.2},{"p":"g","l":2,"x":50,"y":1.04},{"p":"g","l":2,"x":55,"y":1.0},{"p":"g","l":2,"x":60,"y":0.98},
{"p":"g","l":3,"x":0.25,"y":1},{"p":"g","l":3,"x":5,"y":1},{"p":"g","l":3,"x":6,"y":0.61},{"p":"g","l":3,"x":9,"y":0.78},{"p":"g","l":3,"x":10,"y":0.68},{"p":"g","l":3,"x":13,"y":0.9},{"p":"g","l":3,"x":14,"y":0.79},{"p":"g","l":3,"x":17,"y":1.0},{"p":"g","l":3,"x":18,"y":0.88},{"p":"g","l":3,"x":21,"y":1.06},{"p":"g","l":3,"x":22,"y":0.94},{"p":"g","l":3,"x":25,"y":1.11},{"p":"g","l":3,"x":26,"y":0.98},{"p":"g","l":3,"x":29,"y":1.16},{"p":"g","l":3,"x":30,"y":1.01},{"p":"g","l":3,"x":33,"y":1.2},{"p":"g","l":3,"x":34,"y":1.05},{"p":"g","l":3,"x":36,"y":1.18},{"p":"g","l":3,"x":38,"y":1.3},{"p":"g","l":3,"x":40,"y":1.36},{"p":"g","l":3,"x":42,"y":1.3},{"p":"g","l":3,"x":45,"y":1.16},{"p":"g","l":3,"x":50,"y":1.03},{"p":"g","l":3,"x":55,"y":0.99},{"p":"g","l":3,"x":60,"y":0.97},
{"p":"g","l":4,"x":0.25,"y":1},{"p":"g","l":4,"x":5,"y":1},{"p":"g","l":4,"x":6,"y":0.62},{"p":"g","l":4,"x":9,"y":0.72},{"p":"g","l":4,"x":10,"y":0.64},{"p":"g","l":4,"x":13,"y":0.8},{"p":"g","l":4,"x":14,"y":0.7},{"p":"g","l":4,"x":17,"y":0.86},{"p":"g","l":4,"x":18,"y":0.76},{"p":"g","l":4,"x":21,"y":0.91},{"p":"g","l":4,"x":22,"y":0.8},{"p":"g","l":4,"x":25,"y":0.95},{"p":"g","l":4,"x":26,"y":0.84},{"p":"g","l":4,"x":29,"y":0.98},{"p":"g","l":4,"x":30,"y":0.87},{"p":"g","l":4,"x":33,"y":1.02},{"p":"g","l":4,"x":34,"y":0.9},{"p":"g","l":4,"x":36,"y":1.03},{"p":"g","l":4,"x":38,"y":1.15},{"p":"g","l":4,"x":40,"y":1.22},{"p":"g","l":4,"x":42,"y":1.2},{"p":"g","l":4,"x":45,"y":1.1},{"p":"g","l":4,"x":50,"y":1.02},{"p":"g","l":4,"x":55,"y":0.98},{"p":"g","l":4,"x":60,"y":0.97},
{"p":"h","l":1,"x":0.25,"y":1},{"p":"h","l":1,"x":5.2,"y":1},{"p":"h","l":1,"x":6,"y":0.66},{"p":"h","l":1,"x":9,"y":1.1},{"p":"h","l":1,"x":10,"y":0.88},{"p":"h","l":1,"x":13,"y":1.3},{"p":"h","l":1,"x":14,"y":1.02},{"p":"h","l":1,"x":17,"y":1.38},{"p":"h","l":1,"x":18,"y":1.08},{"p":"h","l":1,"x":21,"y":1.4},{"p":"h","l":1,"x":22,"y":1.1},{"p":"h","l":1,"x":25,"y":1.42},{"p":"h","l":1,"x":26,"y":1.1},{"p":"h","l":1,"x":29,"y":1.42},{"p":"h","l":1,"x":30,"y":1.12},{"p":"h","l":1,"x":33,"y":1.45},{"p":"h","l":1,"x":34,"y":1.15},{"p":"h","l":1,"x":36,"y":1.38},{"p":"h","l":1,"x":38,"y":1.52},{"p":"h","l":1,"x":39.5,"y":1.58},{"p":"h","l":1,"x":41,"y":1.5},{"p":"h","l":1,"x":43,"y":1.35},{"p":"h","l":1,"x":46,"y":1.15},{"p":"h","l":1,"x":50,"y":1.02},{"p":"h","l":1,"x":55,"y":0.98},{"p":"h","l":1,"x":60,"y":0.97},
{"p":"h","l":2,"x":0.25,"y":1},{"p":"h","l":2,"x":5.2,"y":1},{"p":"h","l":2,"x":6,"y":0.63},{"p":"h","l":2,"x":9,"y":1.0},{"p":"h","l":2,"x":10,"y":0.8},{"p":"h","l":2,"x":13,"y":1.15},{"p":"h","l":2,"x":14,"y":0.92},{"p":"h","l":2,"x":17,"y":1.22},{"p":"h","l":2,"x":18,"y":0.98},{"p":"h","l":2,"x":21,"y":1.25},{"p":"h","l":2,"x":22,"y":1.0},{"p":"h","l":2,"x":25,"y":1.27},{"p":"h","l":2,"x":26,"y":1.0},{"p":"h","l":2,"x":29,"y":1.28},{"p":"h","l":2,"x":30,"y":1.02},{"p":"h","l":2,"x":33,"y":1.3},{"p":"h","l":2,"x":34,"y":1.05},{"p":"h","l":2,"x":36,"y":1.25},{"p":"h","l":2,"x":38,"y":1.38},{"p":"h","l":2,"x":40,"y":1.42},{"p":"h","l":2,"x":42,"y":1.35},{"p":"h","l":2,"x":45,"y":1.15},{"p":"h","l":2,"x":50,"y":1.0},{"p":"h","l":2,"x":55,"y":0.96},{"p":"h","l":2,"x":60,"y":0.95},
{"p":"h","l":3,"x":0.25,"y":1},{"p":"h","l":3,"x":5.2,"y":1},{"p":"h","l":3,"x":6,"y":0.6},{"p":"h","l":3,"x":9,"y":0.92},{"p":"h","l":3,"x":10,"y":0.75},{"p":"h","l":3,"x":13,"y":1.05},{"p":"h","l":3,"x":14,"y":0.85},{"p":"h","l":3,"x":17,"y":1.1},{"p":"h","l":3,"x":18,"y":0.9},{"p":"h","l":3,"x":21,"y":1.12},{"p":"h","l":3,"x":22,"y":0.92},{"p":"h","l":3,"x":25,"y":1.15},{"p":"h","l":3,"x":26,"y":0.93},{"p":"h","l":3,"x":29,"y":1.15},{"p":"h","l":3,"x":30,"y":0.95},{"p":"h","l":3,"x":33,"y":1.18},{"p":"h","l":3,"x":34,"y":0.97},{"p":"h","l":3,"x":36,"y":1.15},{"p":"h","l":3,"x":38,"y":1.25},{"p":"h","l":3,"x":40,"y":1.3},{"p":"h","l":3,"x":42,"y":1.25},{"p":"h","l":3,"x":45,"y":1.1},{"p":"h","l":3,"x":50,"y":0.98},{"p":"h","l":3,"x":55,"y":0.95},{"p":"h","l":3,"x":60,"y":0.94},
{"p":"h","l":4,"x":0.25,"y":1},{"p":"h","l":4,"x":5.2,"y":1},{"p":"h","l":4,"x":6,"y":0.6},{"p":"h","l":4,"x":9,"y":0.85},{"p":"h","l":4,"x":10,"y":0.7},{"p":"h","l":4,"x":13,"y":0.95},{"p":"h","l":4,"x":14,"y":0.8},{"p":"h","l":4,"x":17,"y":1.0},{"p":"h","l":4,"x":18,"y":0.85},{"p":"h","l":4,"x":21,"y":1.02},{"p":"h","l":4,"x":22,"y":0.87},{"p":"h","l":4,"x":25,"y":1.05},{"p":"h","l":4,"x":26,"y":0.88},{"p":"h","l":4,"x":29,"y":1.05},{"p":"h","l":4,"x":30,"y":0.9},{"p":"h","l":4,"x":33,"y":1.08},{"p":"h","l":4,"x":34,"y":0.92},{"p":"h","l":4,"x":36,"y":1.05},{"p":"h","l":4,"x":38,"y":1.12},{"p":"h","l":4,"x":40,"y":1.15},{"p":"h","l":4,"x":42,"y":1.12},{"p":"h","l":4,"x":45,"y":1.02},{"p":"h","l":4,"x":50,"y":0.95},{"p":"h","l":4,"x":55,"y":0.93},{"p":"h","l":4,"x":60,"y":0.92},
{"p":"k","l":1,"x":0.25,"y":1},{"p":"k","l":1,"x":5,"y":1},{"p":"k","l":1,"x":6,"y":0.45},{"p":"k","l":1,"x":9,"y":0.68},{"p":"k","l":1,"x":10,"y":0.58},{"p":"k","l":1,"x":13,"y":0.78},{"p":"k","l":1,"x":14,"y":0.65},{"p":"k","l":1,"x":17,"y":0.82},{"p":"k","l":1,"x":18,"y":0.68},{"p":"k","l":1,"x":21,"y":0.85},{"p":"k","l":1,"x":22,"y":0.7},{"p":"k","l":1,"x":25,"y":0.86},{"p":"k","l":1,"x":26,"y":0.72},{"p":"k","l":1,"x":29,"y":0.86},{"p":"k","l":1,"x":30,"y":0.72},{"p":"k","l":1,"x":33,"y":0.88},{"p":"k","l":1,"x":34,"y":0.74},{"p":"k","l":1,"x":36,"y":0.82},{"p":"k","l":1,"x":38,"y":0.88},{"p":"k","l":1,"x":40,"y":0.9},{"p":"k","l":1,"x":42,"y":0.86},{"p":"k","l":1,"x":45,"y":0.8},{"p":"k","l":1,"x":50,"y":0.74},{"p":"k","l":1,"x":55,"y":0.72},{"p":"k","l":1,"x":60,"y":0.72},
{"p":"k","l":2,"x":0.25,"y":1},{"p":"k","l":2,"x":5,"y":1},{"p":"k","l":2,"x":6,"y":0.42},{"p":"k","l":2,"x":9,"y":0.58},{"p":"k","l":2,"x":10,"y":0.5},{"p":"k","l":2,"x":13,"y":0.66},{"p":"k","l":2,"x":14,"y":0.55},{"p":"k","l":2,"x":17,"y":0.7},{"p":"k","l":2,"x":18,"y":0.58},{"p":"k","l":2,"x":21,"y":0.72},{"p":"k","l":2,"x":22,"y":0.6},{"p":"k","l":2,"x":25,"y":0.74},{"p":"k","l":2,"x":26,"y":0.62},{"p":"k","l":2,"x":29,"y":0.75},{"p":"k","l":2,"x":30,"y":0.63},{"p":"k","l":2,"x":33,"y":0.77},{"p":"k","l":2,"x":34,"y":0.65},{"p":"k","l":2,"x":36,"y":0.74},{"p":"k","l":2,"x":38,"y":0.8},{"p":"k","l":2,"x":40,"y":0.82},{"p":"k","l":2,"x":42,"y":0.8},{"p":"k","l":2,"x":45,"y":0.75},{"p":"k","l":2,"x":50,"y":0.7},{"p":"k","l":2,"x":55,"y":0.68},{"p":"k","l":2,"x":60,"y":0.68},
{"p":"k","l":3,"x":0.25,"y":1},{"p":"k","l":3,"x":5,"y":1},{"p":"k","l":3,"x":6,"y":0.4},{"p":"k","l":3,"x":9,"y":0.52},{"p":"k","l":3,"x":10,"y":0.45},{"p":"k","l":3,"x":13,"y":0.57},{"p":"k","l":3,"x":14,"y":0.48},{"p":"k","l":3,"x":17,"y":0.6},{"p":"k","l":3,"x":18,"y":0.5},{"p":"k","l":3,"x":21,"y":0.62},{"p":"k","l":3,"x":22,"y":0.52},{"p":"k","l":3,"x":25,"y":0.64},{"p":"k","l":3,"x":26,"y":0.54},{"p":"k","l":3,"x":29,"y":0.65},{"p":"k","l":3,"x":30,"y":0.55},{"p":"k","l":3,"x":33,"y":0.67},{"p":"k","l":3,"x":34,"y":0.57},{"p":"k","l":3,"x":36,"y":0.66},{"p":"k","l":3,"x":38,"y":0.72},{"p":"k","l":3,"x":40,"y":0.75},{"p":"k","l":3,"x":42,"y":0.74},{"p":"k","l":3,"x":45,"y":0.7},{"p":"k","l":3,"x":50,"y":0.66},{"p":"k","l":3,"x":55,"y":0.65},{"p":"k","l":3,"x":60,"y":0.65},
{"p":"l","l":1,"x":0.25,"y":1},{"p":"l","l":1,"x":5,"y":1},{"p":"l","l":1,"x":6,"y":0.5},{"p":"l","l":1,"x":9,"y":0.75},{"p":"l","l":1,"x":10,"y":0.65},{"p":"l","l":1,"x":13,"y":0.82},{"p":"l","l":1,"x":14,"y":0.7},{"p":"l","l":1,"x":17,"y":0.85},{"p":"l","l":1,"x":18,"y":0.72},{"p":"l","l":1,"x":21,"y":0.86},{"p":"l","l":1,"x":22,"y":0.74},{"p":"l","l":1,"x":25,"y":0.87},{"p":"l","l":1,"x":26,"y":0.75},{"p":"l","l":1,"x":29,"y":0.88},{"p":"l","l":1,"x":30,"y":0.76},{"p":"l","l":1,"x":33,"y":0.88},{"p":"l","l":1,"x":34,"y":0.78},{"p":"l","l":1,"x":36,"y":0.84},{"p":"l","l":1,"x":38,"y":0.87},{"p":"l","l":1,"x":40,"y":0.88},{"p":"l","l":1,"x":42,"y":0.85},{"p":"l","l":1,"x":45,"y":0.8},{"p":"l","l":1,"x":50,"y":0.76},{"p":"l","l":1,"x":55,"y":0.75},{"p":"l","l":1,"x":60,"y":0.76},
{"p":"l","l":2,"x":0.25,"y":1},{"p":"l","l":2,"x":5,"y":1},{"p":"l","l":2,"x":6,"y":0.45},{"p":"l","l":2,"x":9,"y":0.66},{"p":"l","l":2,"x":10,"y":0.58},{"p":"l","l":2,"x":13,"y":0.73},{"p":"l","l":2,"x":14,"y":0.62},{"p":"l","l":2,"x":17,"y":0.76},{"p":"l","l":2,"x":18,"y":0.64},{"p":"l","l":2,"x":21,"y":0.78},{"p":"l","l":2,"x":22,"y":0.66},{"p":"l","l":2,"x":25,"y":0.79},{"p":"l","l":2,"x":26,"y":0.67},{"p":"l","l":2,"x":29,"y":0.8},{"p":"l","l":2,"x":30,"y":0.68},{"p":"l","l":2,"x":33,"y":0.8},{"p":"l","l":2,"x":34,"y":0.7},{"p":"l","l":2,"x":36,"y":0.78},{"p":"l","l":2,"x":38,"y":0.8},{"p":"l","l":2,"x":40,"y":0.82},{"p":"l","l":2,"x":42,"y":0.8},{"p":"l","l":2,"x":45,"y":0.76},{"p":"l","l":2,"x":50,"y":0.72},{"p":"l","l":2,"x":55,"y":0.71},{"p":"l","l":2,"x":60,"y":0.72},
{"p":"l","l":3,"x":0.25,"y":1},{"p":"l","l":3,"x":5,"y":1},{"p":"l","l":3,"x":6,"y":0.42},{"p":"l","l":3,"x":9,"y":0.6},{"p":"l","l":3,"x":10,"y":0.52},{"p":"l","l":3,"x":13,"y":0.66},{"p":"l","l":3,"x":14,"y":0.56},{"p":"l","l":3,"x":17,"y":0.68},{"p":"l","l":3,"x":18,"y":0.58},{"p":"l","l":3,"x":21,"y":0.7},{"p":"l","l":3,"x":22,"y":0.6},{"p":"l","l":3,"x":25,"y":0.72},{"p":"l","l":3,"x":26,"y":0.6},{"p":"l","l":3,"x":29,"y":0.72},{"p":"l","l":3,"x":30,"y":0.62},{"p":"l","l":3,"x":33,"y":0.72},{"p":"l","l":3,"x":34,"y":0.63},{"p":"l","l":3,"x":36,"y":0.72},{"p":"l","l":3,"x":38,"y":0.75},{"p":"l","l":3,"x":40,"y":0.76},{"p":"l","l":3,"x":42,"y":0.74},{"p":"l","l":3,"x":45,"y":0.7},{"p":"l","l":3,"x":50,"y":0.68},{"p":"l","l":3,"x":55,"y":0.67},{"p":"l","l":3,"x":60,"y":0.68}
]},
"title":{"text":"Ratio of outcome per personyear with LLIN intervention to outcome with no intervention","orient":"left","anchor":"middle","offset":10},
"vconcat":[{
"title":{"text":"Pre−intervention entomological inoculation rate (IBPAPA)","orient":"right","anchor":"middle","angle":270,"baseline":"top","offset":1},
"columns":3,"bounds":"flush","spacing":{"row":14.5,"column":19.5},
"concat":[
{"width":159,"height":120,"title":{"text":"EIR"},"layer":[
{"data":{"values":[{"v":1}]},"mark":{"type":"rule","strokeDash":[4,3.5],"strokeWidth":1.1,"color":"black"},"encoding":{"y":{"field":"v","type":"quantitative","scale":{"domain":[-0.12,3.12],"nice":false,"zero":false}}}},
{"data":{"values":[{"v":0}]},"mark":{"type":"rule","strokeDash":[1.2,3],"strokeWidth":1.1,"color":"black"},"encoding":{"y":{"field":"v","type":"quantitative","scale":{"domain":[-0.12,3.12],"nice":false,"zero":false}}}},
{"transform":[{"filter":"datum.p==='a' && datum.l<=2"}],"mark":{"type":"line","color":"#ff3b3b","strokeWidth":7,"opacity":0.13,"interpolate":"monotone"},"encoding":{"x":{"field":"x","type":"quantitative","scale":{"domain":[-2.4,62.4],"nice":false,"zero":false}},"y":{"field":"y","type":"quantitative","scale":{"domain":[-0.12,3.12],"nice":false,"zero":false}},"detail":{"field":"l","type":"nominal"}}},
{"transform":[{"filter":"datum.p==='a'"}],"mark":{"type":"line","color":"#0a8a0a","strokeWidth":2,"interpolate":"monotone"},"encoding":{"x":{"field":"x","type":"quantitative","scale":{"domain":[-2.4,62.4],"nice":false,"zero":false},"axis":{"values":[0,1,2,3,4,5,6,7,8,9,10,11,12,13,14,15,16,17,18,19,20,21,22,23,24,25,26,27,28,29,30,31,32,33,34,35,36,37,38,39,40,41,42,43,44,45,46,47,48,49,50,51,52,53,54,55,56,57,58,59,60],"tickCount":100,"labels":false,"title":null,"tickSize":{"condition":{"test":"datum.value % 10 === 0","value":5},"value":3}}},"y":{"field":"y","type":"quantitative","scale":{"domain":[-0.12,3.12],"nice":false,"zero":false},"axis":{"values":[0,0.5,1,1.5,2,2.5,3],"tickCount":20,"title":null,"tickSize":4,"labelExpr":"datum.value % 1 === 0 ? format(datum.value,'.1f') : ''","labelAngle":270,"labelAlign":"center","labelBaseline":"bottom","labelPadding":4,"labelOverlap":false}},"detail":{"field":"l","type":"nominal"}}},
{"data":{"values":[{"t":"a"}]},"mark":{"type":"text","fontSize":12,"align":"center","baseline":"middle","color":"black"},"encoding":{"x":{"datum":4.3},"y":{"datum":2.82},"text":{"field":"t"}}}
]},
{"width":159,"height":120,"title":{"text":"Episodes"},"layer":[
{"data":{"values":[{"v":1}]},"mark":{"type":"rule","strokeDash":[4,3.5],"strokeWidth":1.1,"color":"black"},"encoding":{"y":{"field":"v","type":"quantitative","scale":{"domain":[-0.12,3.12],"nice":false,"zero":false}}}},
{"data":{"values":[{"v":0}]},"mark":{"type":"rule","strokeDash":[1.2,3],"strokeWidth":1.1,"color":"black"},"encoding":{"y":{"field":"v","type":"quantitative","scale":{"domain":[-0.12,3.12],"nice":false,"zero":false}}}},
{"transform":[{"filter":"datum.p==='e'"}],"mark":{"type":"line","color":"#0a8a0a","strokeWidth":2,"interpolate":"monotone"},"encoding":{"x":{"field":"x","type":"quantitative","scale":{"domain":[-2.4,62.4],"nice":false,"zero":false},"axis":{"values":[0,1,2,3,4,5,6,7,8,9,10,11,12,13,14,15,16,17,18,19,20,21,22,23,24,25,26,27,28,29,30,31,32,33,34,35,36,37,38,39,40,41,42,43,44,45,46,47,48,49,50,51,52,53,54,55,56,57,58,59,60],"tickCount":100,"labels":false,"title":null,"tickSize":{"condition":{"test":"datum.value % 10 === 0","value":5},"value":3}}},"y":{"field":"y","type":"quantitative","scale":{"domain":[-0.12,3.12],"nice":false,"zero":false},"axis":{"values":[0,0.5,1,1.5,2,2.5,3],"tickCount":20,"title":null,"tickSize":4,"labels":false}},"detail":{"field":"l","type":"nominal"}}},
{"data":{"values":[{"t":"e"}]},"mark":{"type":"text","fontSize":12,"align":"center","baseline":"middle","color":"black"},"encoding":{"x":{"datum":4.3},"y":{"datum":2.82},"text":{"field":"t"}}}
]},
{"width":159,"height":120,"title":{"text":"DALYs"},"resolve":{"axis":{"y":"independent"}},"layer":[
{"data":{"values":[{"v":1}]},"mark":{"type":"rule","strokeDash":[4,3.5],"strokeWidth":1.1,"color":"black"},"encoding":{"y":{"field":"v","type":"quantitative","scale":{"domain":[-0.12,3.12],"nice":false,"zero":false},"axis":{"orient":"right","title":"4","ticks":false,"labels":false,"domain":false,"titleAngle":270,"titleBaseline":"top","titlePadding":4}}}},
{"layer":[
{"data":{"values":[{"v":0}]},"mark":{"type":"rule","strokeDash":[1.2,3],"strokeWidth":1.1,"color":"black"},"encoding":{"y":{"field":"v","type":"quantitative","scale":{"domain":[-0.12,3.12],"nice":false,"zero":false}}}},
{"transform":[{"filter":"datum.p==='i'"}],"mark":{"type":"line","color":"#ff3b3b","strokeWidth":7,"opacity":0.1,"interpolate":"monotone"},"encoding":{"x":{"field":"x","type":"quantitative","scale":{"domain":[-2.4,62.4],"nice":false,"zero":false}},"y":{"field":"y","type":"quantitative","scale":{"domain":[-0.12,3.12],"nice":false,"zero":false}},"detail":{"field":"l","type":"nominal"}}},
{"transform":[{"filter":"datum.p==='i' && datum.x<=5 && datum.l<=2"}],"mark":{"type":"line","color":"#ff1a1a","strokeWidth":8,"opacity":0.45},"encoding":{"x":{"field":"x","type":"quantitative","scale":{"domain":[-2.4,62.4],"nice":false,"zero":false}},"y":{"field":"y","type":"quantitative","scale":{"domain":[-0.12,3.12],"nice":false,"zero":false}},"detail":{"field":"l","type":"nominal"}}},
{"transform":[{"filter":"datum.p==='i'"}],"mark":{"type":"line","color":"#0a8a0a","strokeWidth":2,"interpolate":"monotone"},"encoding":{"x":{"field":"x","type":"quantitative","scale":{"domain":[-2.4,62.4],"nice":false,"zero":false},"axis":{"values":[0,1,2,3,4,5,6,7,8,9,10,11,12,13,14,15,16,17,18,19,20,21,22,23,24,25,26,27,28,29,30,31,32,33,34,35,36,37,38,39,40,41,42,43,44,45,46,47,48,49,50,51,52,53,54,55,56,57,58,59,60],"tickCount":100,"labels":false,"title":null,"tickSize":{"condition":{"test":"datum.value % 10 === 0","value":5},"value":3}}},"y":{"field":"y","type":"quantitative","scale":{"domain":[-0.12,3.12],"nice":false,"zero":false},"axis":{"orient":"left","values":[0,0.5,1,1.5,2,2.5,3],"tickCount":20,"title":null,"tickSize":4,"labels":false}},"detail":{"field":"l","type":"nominal"}}},
{"data":{"values":[{"t":"i"}]},"mark":{"type":"text","fontSize":12,"align":"center","baseline":"middle","color":"black"},"encoding":{"x":{"datum":4.3},"y":{"datum":2.82},"text":{"field":"t"}}}
]}
]},
{"width":159,"height":120,"layer":[
{"data":{"values":[{"v":1}]},"mark":{"type":"rule","strokeDash":[4,3.5],"strokeWidth":1.1,"color":"black"},"encoding":{"y":{"field":"v","type":"quantitative","scale":{"domain":[-0.12,3.12],"nice":false,"zero":false}}}},
{"data":{"values":[{"v":0}]},"mark":{"type":"rule","strokeDash":[1.2,3],"strokeWidth":1.1,"color":"black"},"encoding":{"y":{"field":"v","type":"quantitative","scale":{"domain":[-0.12,3.12],"nice":false,"zero":false}}}},
{"transform":[{"filter":"datum.p==='b'"}],"mark":{"type":"line","color":"#0a8a0a","strokeWidth":2,"interpolate":"monotone"},"encoding":{"x":{"field":"x","type":"quantitative","scale":{"domain":[-2.4,62.4],"nice":false,"zero":false},"axis":{"values":[0,1,2,3,4,5,6,7,8,9,10,11,12,13,14,15,16,17,18,19,20,21,22,23,24,25,26,27,28,29,30,31,32,33,34,35,36,37,38,39,40,41,42,43,44,45,46,47,48,49,50,51,52,53,54,55,56,57,58,59,60],"tickCount":100,"labels":false,"title":null,"tickSize":{"condition":{"test":"datum.value % 10 === 0","value":5},"value":3}}},"y":{"field":"y","type":"quantitative","scale":{"domain":[-0.12,3.12],"nice":false,"zero":false},"axis":{"values":[0,0.5,1,1.5,2,2.5,3],"tickCount":20,"title":null,"tickSize":4,"labelExpr":"datum.value % 1 === 0 ? format(datum.value,'.1f') : ''","labelAngle":270,"labelAlign":"center","labelBaseline":"bottom","labelPadding":4,"labelOverlap":false}},"detail":{"field":"l","type":"nominal"}}},
{"data":{"values":[{"t":"b"}]},"mark":{"type":"text","fontSize":12,"align":"center","baseline":"middle","color":"black"},"encoding":{"x":{"datum":4.3},"y":{"datum":2.82},"text":{"field":"t"}}}
]},
{"width":159,"height":120,"layer":[
{"data":{"values":[{"v":1}]},"mark":{"type":"rule","strokeDash":[4,3.5],"strokeWidth":1.1,"color":"black"},"encoding":{"y":{"field":"v","type":"quantitative","scale":{"domain":[-0.12,3.12],"nice":false,"zero":false}}}},
{"data":{"values":[{"v":0}]},"mark":{"type":"rule","strokeDash":[1.2,3],"strokeWidth":1.1,"color":"black"},"encoding":{"y":{"field":"v","type":"quantitative","scale":{"domain":[-0.12,3.12],"nice":false,"zero":false}}}},
{"transform":[{"filter":"datum.p==='f'"}],"mark":{"type":"line","color":"#0a8a0a","strokeWidth":2,"interpolate":"monotone"},"encoding":{"x":{"field":"x","type":"quantitative","scale":{"domain":[-2.4,62.4],"nice":false,"zero":false},"axis":{"values":[0,1,2,3,4,5,6,7,8,9,10,11,12,13,14,15,16,17,18,19,20,21,22,23,24,25,26,27,28,29,30,31,32,33,34,35,36,37,38,39,40,41,42,43,44,45,46,47,48,49,50,51,52,53,54,55,56,57,58,59,60],"tickCount":100,"labels":false,"title":null,"tickSize":{"condition":{"test":"datum.value % 10 === 0","value":5},"value":3}}},"y":{"field":"y","type":"quantitative","scale":{"domain":[-0.12,3.12],"nice":false,"zero":false},"axis":{"values":[0,0.5,1,1.5,2,2.5,3],"tickCount":20,"title":null,"tickSize":4,"labels":false}},"detail":{"field":"l","type":"nominal"}}},
{"data":{"values":[{"t":"f"}]},"mark":{"type":"text","fontSize":12,"align":"center","baseline":"middle","color":"black"},"encoding":{"x":{"datum":4.3},"y":{"datum":2.82},"text":{"field":"t"}}}
]},
{"width":159,"height":120,"resolve":{"axis":{"y":"independent"}},"layer":[
{"data":{"values":[{"v":1}]},"mark":{"type":"rule","strokeDash":[4,3.5],"strokeWidth":1.1,"color":"black"},"encoding":{"y":{"field":"v","type":"quantitative","scale":{"domain":[-0.12,3.12],"nice":false,"zero":false},"axis":{"orient":"right","title":"16","ticks":false,"labels":false,"domain":false,"titleAngle":270,"titleBaseline":"top","titlePadding":4}}}},
{"layer":[
{"data":{"values":[{"v":0}]},"mark":{"type":"rule","strokeDash":[1.2,3],"strokeWidth":1.1,"color":"black"},"encoding":{"y":{"field":"v","type":"quantitative","scale":{"domain":[-0.12,3.12],"nice":false,"zero":false}}}},
{"transform":[{"filter":"datum.p==='j'"}],"mark":{"type":"line","color":"#ff3b3b","strokeWidth":7,"opacity":0.13,"interpolate":"monotone"},"encoding":{"x":{"field":"x","type":"quantitative","scale":{"domain":[-2.4,62.4],"nice":false,"zero":false}},"y":{"field":"y","type":"quantitative","scale":{"domain":[-0.12,3.12],"nice":false,"zero":false}},"detail":{"field":"l","type":"nominal"}}},
{"transform":[{"filter":"datum.p==='j' && datum.x<=5 && datum.l<=2"}],"mark":{"type":"line","color":"#ff1a1a","strokeWidth":8,"opacity":0.4},"encoding":{"x":{"field":"x","type":"quantitative","scale":{"domain":[-2.4,62.4],"nice":false,"zero":false}},"y":{"field":"y","type":"quantitative","scale":{"domain":[-0.12,3.12],"nice":false,"zero":false}},"detail":{"field":"l","type":"nominal"}}},
{"transform":[{"filter":"datum.p==='j'"}],"mark":{"type":"line","color":"#0a8a0a","strokeWidth":2,"interpolate":"monotone"},"encoding":{"x":{"field":"x","type":"quantitative","scale":{"domain":[-2.4,62.4],"nice":false,"zero":false},"axis":{"values":[0,1,2,3,4,5,6,7,8,9,10,11,12,13,14,15,16,17,18,19,20,21,22,23,24,25,26,27,28,29,30,31,32,33,34,35,36,37,38,39,40,41,42,43,44,45,46,47,48,49,50,51,52,53,54,55,56,57,58,59,60],"tickCount":100,"labels":false,"title":null,"tickSize":{"condition":{"test":"datum.value % 10 === 0","value":5},"value":3}}},"y":{"field":"y","type":"quantitative","scale":{"domain":[-0.12,3.12],"nice":false,"zero":false},"axis":{"orient":"left","values":[0,0.5,1,1.5,2,2.5,3],"tickCount":20,"title":null,"tickSize":4,"labels":false}},"detail":{"field":"l","type":"nominal"}}},
{"data":{"values":[{"t":"j"}]},"mark":{"type":"text","fontSize":12,"align":"center","baseline":"middle","color":"black"},"encoding":{"x":{"datum":4.3},"y":{"datum":2.82},"text":{"field":"t"}}}
]}
]},
{"width":159,"height":120,"layer":[
{"data":{"values":[{"v":1}]},"mark":{"type":"rule","strokeDash":[4,3.5],"strokeWidth":1.1,"color":"black"},"encoding":{"y":{"field":"v","type":"quantitative","scale":{"domain":[-0.12,3.12],"nice":false,"zero":false}}}},
{"data":{"values":[{"v":0}]},"mark":{"type":"rule","strokeDash":[1.2,3],"strokeWidth":1.1,"color":"black"},"encoding":{"y":{"field":"v","type":"quantitative","scale":{"domain":[-0.12,3.12],"nice":false,"zero":false}}}},
{"transform":[{"filter":"datum.p==='c'"}],"mark":{"type":"line","color":"#0a8a0a","strokeWidth":2.5,"interpolate":"monotone"},"encoding":{"x":{"field":"x","type":"quantitative","scale":{"domain":[-2.4,62.4],"nice":false,"zero":false},"axis":{"values":[0,1,2,3,4,5,6,7,8,9,10,11,12,13,14,15,16,17,18,19,20,21,22,23,24,25,26,27,28,29,30,31,32,33,34,35,36,37,38,39,40,41,42,43,44,45,46,47,48,49,50,51,52,53,54,55,56,57,58,59,60],"tickCount":100,"labels":false,"title":null,"tickSize":{"condition":{"test":"datum.value % 10 === 0","value":5},"value":3}}},"y":{"field":"y","type":"quantitative","scale":{"domain":[-0.12,3.12],"nice":false,"zero":false},"axis":{"values":[0,0.5,1,1.5,2,2.5,3],"tickCount":20,"title":null,"tickSize":4,"labelExpr":"datum.value % 1 === 0 ? format(datum.value,'.1f') : ''","labelAngle":270,"labelAlign":"center","labelBaseline":"bottom","labelPadding":4,"labelOverlap":false}},"detail":{"field":"l","type":"nominal"}}},
{"data":{"values":[{"t":"c"}]},"mark":{"type":"text","fontSize":12,"align":"center","baseline":"middle","color":"black"},"encoding":{"x":{"datum":4.3},"y":{"datum":2.82},"text":{"field":"t"}}}
]},
{"width":159,"height":120,"layer":[
{"data":{"values":[{"v":1}]},"mark":{"type":"rule","strokeDash":[4,3.5],"strokeWidth":1.1,"color":"black"},"encoding":{"y":{"field":"v","type":"quantitative","scale":{"domain":[-0.12,3.12],"nice":false,"zero":false}}}},
{"data":{"values":[{"v":0}]},"mark":{"type":"rule","strokeDash":[1.2,3],"strokeWidth":1.1,"color":"black"},"encoding":{"y":{"field":"v","type":"quantitative","scale":{"domain":[-0.12,3.12],"nice":false,"zero":false}}}},
{"transform":[{"filter":"datum.p==='g'"}],"mark":{"type":"line","color":"#0a8a0a","strokeWidth":2.5,"interpolate":"monotone"},"encoding":{"x":{"field":"x","type":"quantitative","scale":{"domain":[-2.4,62.4],"nice":false,"zero":false},"axis":{"values":[0,1,2,3,4,5,6,7,8,9,10,11,12,13,14,15,16,17,18,19,20,21,22,23,24,25,26,27,28,29,30,31,32,33,34,35,36,37,38,39,40,41,42,43,44,45,46,47,48,49,50,51,52,53,54,55,56,57,58,59,60],"tickCount":100,"labels":false,"title":null,"tickSize":{"condition":{"test":"datum.value % 10 === 0","value":5},"value":3}}},"y":{"field":"y","type":"quantitative","scale":{"domain":[-0.12,3.12],"nice":false,"zero":false},"axis":{"values":[0,0.5,1,1.5,2,2.5,3],"tickCount":20,"title":null,"tickSize":4,"labels":false}},"detail":{"field":"l","type":"nominal"}}},
{"data":{"values":[{"t":"g"}]},"mark":{"type":"text","fontSize":12,"align":"center","baseline":"middle","color":"black"},"encoding":{"x":{"datum":4.3},"y":{"datum":2.82},"text":{"field":"t"}}}
]},
{"width":159,"height":120,"resolve":{"axis":{"y":"independent"}},"layer":[
{"data":{"values":[{"v":1}]},"mark":{"type":"rule","strokeDash":[4,3.5],"strokeWidth":1.1,"color":"black"},"encoding":{"y":{"field":"v","type":"quantitative","scale":{"domain":[-0.12,3.12],"nice":false,"zero":false},"axis":{"orient":"right","title":"64","ticks":false,"labels":false,"domain":false,"titleAngle":270,"titleBaseline":"top","titlePadding":4}}}},
{"layer":[
{"data":{"values":[{"v":0}]},"mark":{"type":"rule","strokeDash":[1.2,3],"strokeWidth":1.1,"color":"black"},"encoding":{"y":{"field":"v","type":"quantitative","scale":{"domain":[-0.12,3.12],"nice":false,"zero":false}}}},
{"transform":[{"filter":"datum.p==='k'"}],"mark":{"type":"line","color":"#ff3b3b","strokeWidth":8,"opacity":0.17,"interpolate":"monotone"},"encoding":{"x":{"field":"x","type":"quantitative","scale":{"domain":[-2.4,62.4],"nice":false,"zero":false}},"y":{"field":"y","type":"quantitative","scale":{"domain":[-0.12,3.12],"nice":false,"zero":false}},"detail":{"field":"l","type":"nominal"}}},
{"transform":[{"filter":"datum.p==='k' && datum.x<=5 && datum.l<=2"}],"mark":{"type":"line","color":"#ff1a1a","strokeWidth":8,"opacity":0.4},"encoding":{"x":{"field":"x","type":"quantitative","scale":{"domain":[-2.4,62.4],"nice":false,"zero":false}},"y":{"field":"y","type":"quantitative","scale":{"domain":[-0.12,3.12],"nice":false,"zero":false}},"detail":{"field":"l","type":"nominal"}}},
{"transform":[{"filter":"datum.p==='k'"}],"mark":{"type":"line","color":"#0a8a0a","strokeWidth":2.5,"interpolate":"monotone"},"encoding":{"x":{"field":"x","type":"quantitative","scale":{"domain":[-2.4,62.4],"nice":false,"zero":false},"axis":{"values":[0,1,2,3,4,5,6,7,8,9,10,11,12,13,14,15,16,17,18,19,20,21,22,23,24,25,26,27,28,29,30,31,32,33,34,35,36,37,38,39,40,41,42,43,44,45,46,47,48,49,50,51,52,53,54,55,56,57,58,59,60],"tickCount":100,"labels":false,"title":null,"tickSize":{"condition":{"test":"datum.value % 10 === 0","value":5},"value":3}}},"y":{"field":"y","type":"quantitative","scale":{"domain":[-0.12,3.12],"nice":false,"zero":false},"axis":{"orient":"left","values":[0,0.5,1,1.5,2,2.5,3],"tickCount":20,"title":null,"tickSize":4,"labels":false}},"detail":{"field":"l","type":"nominal"}}},
{"data":{"values":[{"t":"k"}]},"mark":{"type":"text","fontSize":12,"align":"center","baseline":"middle","color":"black"},"encoding":{"x":{"datum":4.3},"y":{"datum":2.82},"text":{"field":"t"}}}
]}
]},
{"width":159,"height":120,"layer":[
{"data":{"values":[{"v":1}]},"mark":{"type":"rule","strokeDash":[4,3.5],"strokeWidth":1.1,"color":"black"},"encoding":{"y":{"field":"v","type":"quantitative","scale":{"domain":[-0.12,3.12],"nice":false,"zero":false}}}},
{"data":{"values":[{"v":0}]},"mark":{"type":"rule","strokeDash":[1.2,3],"strokeWidth":1.1,"color":"black"},"encoding":{"y":{"field":"v","type":"quantitative","scale":{"domain":[-0.12,3.12],"nice":false,"zero":false}}}},
{"transform":[{"filter":"datum.p==='d'"}],"mark":{"type":"line","color":"#0a8a0a","strokeWidth":2.5,"interpolate":"monotone"},"encoding":{"x":{"field":"x","type":"quantitative","scale":{"domain":[-2.4,62.4],"nice":false,"zero":false},"axis":{"values":[0,1,2,3,4,5,6,7,8,9,10,11,12,13,14,15,16,17,18,19,20,21,22,23,24,25,26,27,28,29,30,31,32,33,34,35,36,37,38,39,40,41,42,43,44,45,46,47,48,49,50,51,52,53,54,55,56,57,58,59,60],"tickCount":100,"title":null,"tickSize":{"condition":{"test":"datum.value % 10 === 0","value":5},"value":3},"labelExpr":"datum.value % 10 === 0 ? format(datum.value,'d') : ''","labelOverlap":false,"labelFlush":false,"labelPadding":3}},"y":{"field":"y","type":"quantitative","scale":{"domain":[-0.12,3.12],"nice":false,"zero":false},"axis":{"values":[0,0.5,1,1.5,2,2.5,3],"tickCount":20,"title":null,"tickSize":4,"labelExpr":"datum.value % 1 === 0 ? format(datum.value,'.1f') : ''","labelAngle":270,"labelAlign":"center","labelBaseline":"bottom","labelPadding":4,"labelOverlap":false}},"detail":{"field":"l","type":"nominal"}}},
{"data":{"values":[{"t":"d"}]},"mark":{"type":"text","fontSize":12,"align":"center","baseline":"middle","color":"black"},"encoding":{"x":{"datum":4.3},"y":{"datum":2.82},"text":{"field":"t"}}}
]},
{"width":159,"height":120,"layer":[
{"data":{"values":[{"v":1}]},"mark":{"type":"rule","strokeDash":[4,3.5],"strokeWidth":1.1,"color":"black"},"encoding":{"y":{"field":"v","type":"quantitative","scale":{"domain":[-0.12,3.12],"nice":false,"zero":false}}}},
{"data":{"values":[{"v":0}]},"mark":{"type":"rule","strokeDash":[1.2,3],"strokeWidth":1.1,"color":"black"},"encoding":{"y":{"field":"v","type":"quantitative","scale":{"domain":[-0.12,3.12],"nice":false,"zero":false}}}},
{"transform":[{"filter":"datum.p==='h'"}],"mark":{"type":"line","color":"#0a8a0a","strokeWidth":2.5,"interpolate":"monotone"},"encoding":{"x":{"field":"x","type":"quantitative","scale":{"domain":[-2.4,62.4],"nice":false,"zero":false},"axis":{"values":[0,1,2,3,4,5,6,7,8,9,10,11,12,13,14,15,16,17,18,19,20,21,22,23,24,25,26,27,28,29,30,31,32,33,34,35,36,37,38,39,40,41,42,43,44,45,46,47,48,49,50,51,52,53,54,55,56,57,58,59,60],"tickCount":100,"title":"Years since start of simulation","titlePadding":3,"tickSize":{"condition":{"test":"datum.value % 10 === 0","value":5},"value":3},"labelExpr":"datum.value % 10 === 0 ? format(datum.value,'d') : ''","labelOverlap":false,"labelFlush":false,"labelPadding":3}},"y":{"field":"y","type":"quantitative","scale":{"domain":[-0.12,3.12],"nice":false,"zero":false},"axis":{"values":[0,0.5,1,1.5,2,2.5,3],"tickCount":20,"title":null,"tickSize":4,"labels":false}},"detail":{"field":"l","type":"nominal"}}},
{"data":{"values":[{"t":"h"}]},"mark":{"type":"text","fontSize":12,"align":"center","baseline":"middle","color":"black"},"encoding":{"x":{"datum":4.3},"y":{"datum":2.82},"text":{"field":"t"}}}
]},
{"width":159,"height":120,"resolve":{"axis":{"y":"independent"}},"layer":[
{"data":{"values":[{"v":1}]},"mark":{"type":"rule","strokeDash":[4,3.5],"strokeWidth":1.1,"color":"black"},"encoding":{"y":{"field":"v","type":"quantitative","scale":{"domain":[-0.12,3.12],"nice":false,"zero":false},"axis":{"orient":"right","title":"256","ticks":false,"labels":false,"domain":false,"titleAngle":270,"titleBaseline":"top","titlePadding":4}}}},
{"layer":[
{"data":{"values":[{"v":0}]},"mark":{"type":"rule","strokeDash":[1.2,3],"strokeWidth":1.1,"color":"black"},"encoding":{"y":{"field":"v","type":"quantitative","scale":{"domain":[-0.12,3.12],"nice":false,"zero":false}}}},
{"transform":[{"filter":"datum.p==='l'"}],"mark":{"type":"line","color":"#ff3b3b","strokeWidth":8,"opacity":0.17,"interpolate":"monotone"},"encoding":{"x":{"field":"x","type":"quantitative","scale":{"domain":[-2.4,62.4],"nice":false,"zero":false}},"y":{"field":"y","type":"quantitative","scale":{"domain":[-0.12,3.12],"nice":false,"zero":false}},"detail":{"field":"l","type":"nominal"}}},
{"transform":[{"filter":"datum.p==='l' && datum.x<=5 && datum.l<=2"}],"mark":{"type":"line","color":"#ff1a1a","strokeWidth":8,"opacity":0.4},"encoding":{"x":{"field":"x","type":"quantitative","scale":{"domain":[-2.4,62.4],"nice":false,"zero":false}},"y":{"field":"y","type":"quantitative","scale":{"domain":[-0.12,3.12],"nice":false,"zero":false}},"detail":{"field":"l","type":"nominal"}}},
{"transform":[{"filter":"datum.p==='l'"}],"mark":{"type":"line","color":"#0a8a0a","strokeWidth":3,"interpolate":"monotone"},"encoding":{"x":{"field":"x","type":"quantitative","scale":{"domain":[-2.4,62.4],"nice":false,"zero":false},"axis":{"values":[0,1,2,3,4,5,6,7,8,9,10,11,12,13,14,15,16,17,18,19,20,21,22,23,24,25,26,27,28,29,30,31,32,33,34,35,36,37,38,39,40,41,42,43,44,45,46,47,48,49,50,51,52,53,54,55,56,57,58,59,60],"tickCount":100,"title":null,"tickSize":{"condition":{"test":"datum.value % 10 === 0","value":5},"value":3},"labelExpr":"datum.value % 10 === 0 ? format(datum.value,'d') : ''","labelOverlap":false,"labelFlush":false,"labelPadding":3}},"y":{"field":"y","type":"quantitative","scale":{"domain":[-0.12,3.12],"nice":false,"zero":false},"axis":{"orient":"left","values":[0,0.5,1,1.5,2,2.5,3],"tickCount":20,"title":null,"tickSize":4,"labels":false}},"detail":{"field":"l","type":"nominal"}}},
{"data":{"values":[{"t":"l"}]},"mark":{"type":"text","fontSize":12,"align":"center","baseline":"middle","color":"black"},"encoding":{"x":{"datum":4.3},"y":{"datum":2.82},"text":{"field":"t"}}}
]}
]}
]}]
}
